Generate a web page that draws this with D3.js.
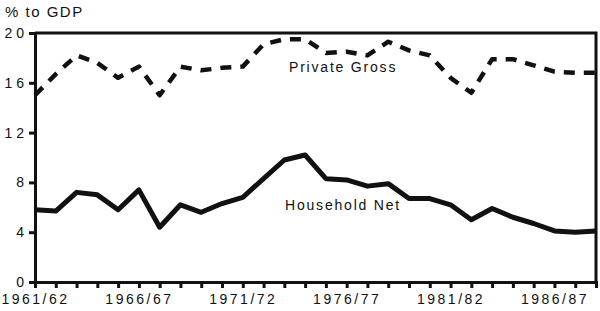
<!DOCTYPE html>
<html>
<head>
<meta charset="utf-8">
<script src="https://cdn.jsdelivr.net/npm/d3@7"></script>
<style>
  body { margin: 0; background: #fff; }
  text { font-family: "Liberation Sans", Arial, sans-serif; fill: #111; }
</style>
</head>
<body>
<div id="chart"></div>
<script>
// Fiscal years, 1961/62 to 1988/89
const years = d3.range(1961, 1989).map(y => `${y}/${String((y + 1) % 100).padStart(2, "0")}`);
const tickYears = ["1961/62", "1966/67", "1971/72", "1976/77", "1981/82", "1986/87"];
const yTicks = [0, 4, 8, 12, 16, 20];

// % to GDP
const privateGross = [15.0, 16.7, 18.2, 17.6, 16.4, 17.3, 15.0, 17.3, 17.0, 17.2, 17.3, 19.1, 19.5, 19.5,
                      18.4, 18.5, 18.2, 19.3, 18.6, 18.2, 16.4, 15.2, 17.9, 17.9, 17.4, 16.9, 16.8, 16.8];
const householdNet = [5.8, 5.7, 7.2, 7.0, 5.8, 7.4, 4.4, 6.2, 5.6, 6.3, 6.8, 8.3, 9.8, 10.2,
                      8.3, 8.2, 7.7, 7.9, 6.7, 6.7, 6.2, 5.0, 5.9, 5.2, 4.7, 4.1, 4.0, 4.1];

const margin = {top: 33, right: 4, bottom: 29, left: 35},
      width = 600 - margin.left - margin.right,
      height = 311 - margin.top - margin.bottom;

const svg = d3.select("#chart")
  .append("svg")
    .attr("width", 600)
    .attr("height", 311)
  .append("g")
    .attr("transform", `translate(${margin.left},${margin.top})`);

const x = d3.scalePoint()
    .domain(years)
    .range([0, width]);

const y = d3.scaleLinear()
    .domain([0, 20])
    .range([height, 0]);

// Frame: top and right edges
svg.append("path")
    .attr("d", `M0,0H${width}V${height}`)
    .attr("fill", "none")
    .attr("stroke", "#111")
    .attr("stroke-width", 3);

// X axis
const xAxis = svg.append("g")
    .attr("transform", `translate(0,${height})`)
    .call(d3.axisBottom(x).tickSize(6).tickPadding(6)
      .tickFormat(d => tickYears.includes(d) ? d : ""));
xAxis.select(".domain").attr("stroke", "#111").attr("stroke-width", 3);
xAxis.selectAll(".tick line").attr("stroke", "#111").attr("stroke-width", 3);
xAxis.selectAll("text")
    .style("font-size", "14px")
    .style("letter-spacing", "2.5px")
    .attr("font-family", null);

// Y axis
const yAxis = svg.append("g")
    .call(d3.axisLeft(y).tickValues(yTicks).tickSize(6).tickPadding(5)
      .tickFormat(d => String(d).split("").join(" ")));
yAxis.select(".domain").attr("stroke", "#111").attr("stroke-width", 3);
yAxis.selectAll(".tick line").attr("stroke", "#111").attr("stroke-width", 3);
yAxis.selectAll("text")
    .style("font-size", "14px")
    .attr("font-family", null);

// Unit label
svg.append("text")
    .attr("x", 5 - margin.left)
    .attr("y", 17 - margin.top)
    .style("font-size", "15px")
    .style("letter-spacing", "1.5px")
    .text("% to GDP");

const line = d3.line()
    .x((d, i) => x(years[i]))
    .y(d => y(d));

// Private gross (dashed)
svg.append("path")
    .datum(privateGross)
    .attr("fill", "none")
    .attr("stroke", "#111")
    .attr("stroke-width", 4.5)
    .attr("stroke-dasharray", "11,9")
    .attr("stroke-linejoin", "round")
    .attr("d", line);

// Household net (solid)
svg.append("path")
    .datum(householdNet)
    .attr("fill", "none")
    .attr("stroke", "#111")
    .attr("stroke-width", 5)
    .attr("stroke-linejoin", "round")
    .attr("d", line);

// Series labels
svg.append("text")
    .attr("x", 289 - margin.left)
    .attr("y", 72 - margin.top)
    .style("font-size", "14px")
    .style("letter-spacing", "1.8px")
    .text("Private  Gross");

svg.append("text")
    .attr("x", 285 - margin.left)
    .attr("y", 210 - margin.top)
    .style("font-size", "14px")
    .style("letter-spacing", "1.8px")
    .text("Household  Net");
</script>
</body>
</html>
